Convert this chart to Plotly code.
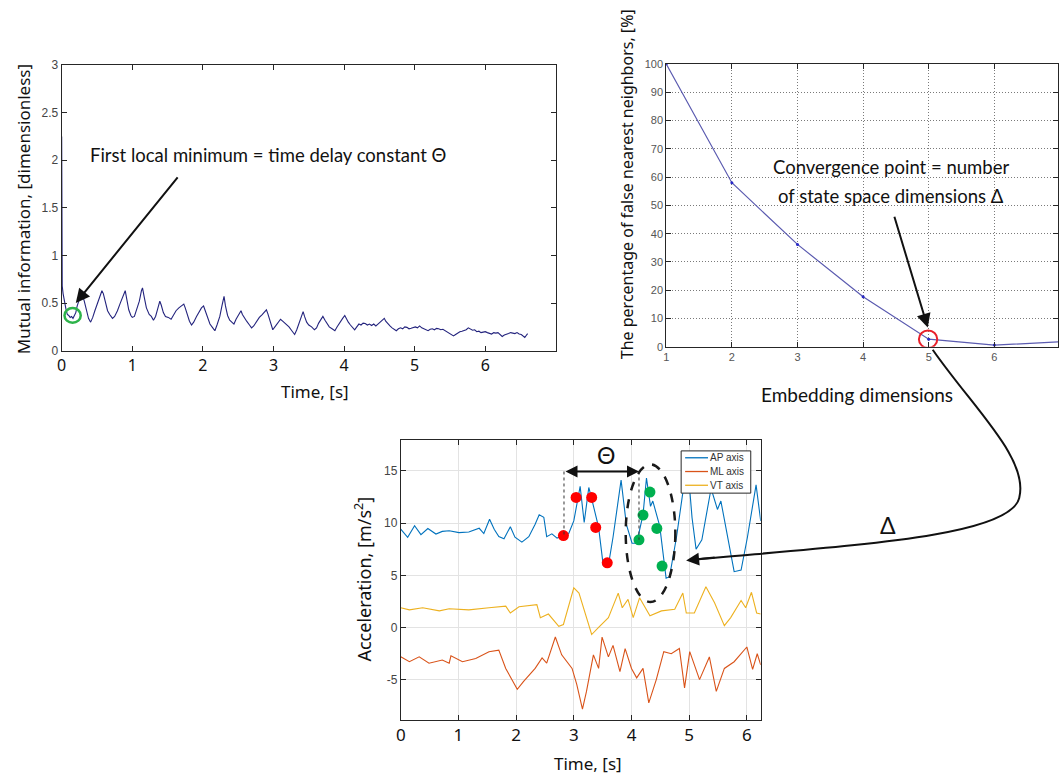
import plotly.graph_objects as go

W, H = 1059, 781


def px(x):
    return x / W


def py(y):
    return 1 - y / H


# ---- Mutual information vs. time lag: (time [s], MI) ----
mi_points = [
    (0.000, 2.25), (0.003, 1.28), (0.008, 0.68), (0.02, 0.60), (0.04, 0.50), (0.06, 0.44),
    (0.08, 0.38), (0.10, 0.37), (0.12, 0.35), (0.14, 0.36), (0.16, 0.34), (0.18, 0.37),
    (0.20, 0.40), (0.22, 0.47), (0.24, 0.53), (0.26, 0.56), (0.28, 0.58), (0.30, 0.57),
    (0.32, 0.52), (0.35, 0.42), (0.38, 0.34), (0.41, 0.30), (0.44, 0.35), (0.47, 0.42),
    (0.50, 0.48), (0.53, 0.55), (0.55, 0.60), (0.57, 0.63), (0.59, 0.60), (0.62, 0.50),
    (0.65, 0.42), (0.68, 0.38), (0.72, 0.34), (0.75, 0.36), (0.79, 0.42), (0.83, 0.50),
    (0.87, 0.58), (0.90, 0.63), (0.92, 0.55), (0.95, 0.43), (0.98, 0.37), (1.00, 0.35),
    (1.03, 0.36), (1.06, 0.42), (1.10, 0.52), (1.13, 0.63), (1.145, 0.66), (1.17, 0.56),
    (1.20, 0.45), (1.24, 0.38), (1.27, 0.36), (1.30, 0.32), (1.33, 0.36), (1.36, 0.44),
    (1.39, 0.52), (1.41, 0.48), (1.44, 0.40), (1.47, 0.36), (1.51, 0.35), (1.55, 0.33),
    (1.58, 0.37), (1.62, 0.42), (1.66, 0.45), (1.70, 0.47), (1.73, 0.49), (1.75, 0.45),
    (1.78, 0.37), (1.81, 0.31), (1.84, 0.27), (1.87, 0.30), (1.91, 0.36), (1.95, 0.42),
    (1.98, 0.45), (2.01, 0.47), (2.03, 0.43), (2.06, 0.35), (2.10, 0.28), (2.14, 0.24),
    (2.17, 0.21), (2.20, 0.27), (2.24, 0.36), (2.27, 0.47), (2.30, 0.57), (2.32, 0.47),
    (2.35, 0.37), (2.38, 0.32), (2.41, 0.30), (2.44, 0.28), (2.47, 0.33), (2.50, 0.37),
    (2.54, 0.42), (2.56, 0.38), (2.59, 0.34), (2.62, 0.31), (2.66, 0.27), (2.69, 0.24),
    (2.72, 0.26), (2.76, 0.31), (2.80, 0.35), (2.84, 0.38), (2.88, 0.42), (2.90, 0.43),
    (2.92, 0.39), (2.95, 0.31), (2.99, 0.22), (3.02, 0.25), (3.06, 0.29), (3.10, 0.33),
    (3.13, 0.31), (3.16, 0.29), (3.19, 0.27), (3.22, 0.25), (3.26, 0.21), (3.30, 0.17),
    (3.33, 0.22), (3.37, 0.30), (3.40, 0.37), (3.42, 0.41), (3.44, 0.36), (3.47, 0.30),
    (3.50, 0.27), (3.54, 0.25), (3.58, 0.22), (3.61, 0.24), (3.64, 0.29), (3.67, 0.33),
    (3.70, 0.36), (3.73, 0.32), (3.76, 0.28), (3.79, 0.25), (3.83, 0.23), (3.87, 0.21),
    (3.90, 0.25), (3.94, 0.30), (3.98, 0.34), (4.01, 0.37), (4.03, 0.34), (4.06, 0.30),
    (4.09, 0.27), (4.12, 0.24), (4.15, 0.22), (4.18, 0.25), (4.21, 0.28), (4.24, 0.27),
    (4.27, 0.29), (4.30, 0.285), (4.33, 0.27), (4.36, 0.28), (4.39, 0.265), (4.42, 0.28),
    (4.45, 0.26), (4.48, 0.28), (4.51, 0.30), (4.54, 0.31), (4.57, 0.34), (4.59, 0.31),
    (4.62, 0.28), (4.65, 0.26), (4.68, 0.24), (4.71, 0.22), (4.74, 0.21), (4.77, 0.23),
    (4.80, 0.24), (4.83, 0.23), (4.86, 0.25), (4.89, 0.245), (4.92, 0.23), (4.95, 0.235),
    (4.98, 0.24), (5.01, 0.25), (5.04, 0.24), (5.07, 0.26), (5.10, 0.24), (5.13, 0.23),
    (5.16, 0.215), (5.19, 0.21), (5.22, 0.225), (5.25, 0.23), (5.28, 0.22), (5.31, 0.235),
    (5.34, 0.23), (5.37, 0.22), (5.40, 0.225), (5.43, 0.21), (5.46, 0.20), (5.49, 0.185),
    (5.52, 0.17), (5.55, 0.155), (5.58, 0.17), (5.61, 0.19), (5.64, 0.20), (5.67, 0.205),
    (5.70, 0.21), (5.73, 0.22), (5.76, 0.24), (5.79, 0.23), (5.82, 0.215), (5.85, 0.22),
    (5.88, 0.20), (5.91, 0.205), (5.94, 0.19), (5.97, 0.195), (6.00, 0.20), (6.03, 0.19),
    (6.06, 0.18), (6.09, 0.175), (6.12, 0.19), (6.15, 0.185), (6.18, 0.19), (6.21, 0.17),
    (6.24, 0.15), (6.27, 0.165), (6.30, 0.17), (6.33, 0.18), (6.36, 0.19), (6.39, 0.185),
    (6.42, 0.18), (6.45, 0.19), (6.48, 0.175), (6.51, 0.17), (6.54, 0.15), (6.56, 0.14),
    (6.58, 0.16), (6.60, 0.18),
]
mi_t = [p[0] for p in mi_points]
mi_v = [p[1] for p in mi_points]
mi_xticks = [0, 1, 2, 3, 4, 5, 6]
mi_yticks = [0, 0.5, 1, 1.5, 2, 2.5, 3]

# ---- False nearest neighbours vs. embedding dimension ----
fnn_dim = [1, 2, 3, 4, 5, 6, 7]
fnn_pct = [100, 58, 36.2, 17.7, 2.7, 0.6, 1.75]
fnn_xticks = [1, 2, 3, 4, 5, 6]
fnn_yticks = [0, 10, 20, 30, 40, 50, 60, 70, 80, 90, 100]

# ---- Tri-axial acceleration ----
ap_t = [0.00, 0.12, 0.24, 0.35, 0.47, 0.61, 0.72, 0.84, 1.01, 1.18, 1.36, 1.44, 1.54, 1.62,
        1.70, 1.79, 1.90, 1.98, 2.10, 2.22, 2.33, 2.40, 2.48, 2.53, 2.62, 2.71, 2.82, 2.91,
        3.00, 3.11, 3.18, 3.26, 3.32, 3.43, 3.51, 3.60, 3.68, 3.82, 3.91, 4.01, 4.09, 4.20,
        4.26, 4.33, 4.37, 4.49, 4.60, 4.66, 4.78, 4.89, 4.98, 5.05, 5.12, 5.22, 5.38, 5.49,
        5.55, 5.66, 5.78, 5.90, 6.01, 6.16, 6.24]
ap_v = [9.42, 8.64, 9.74, 8.89, 9.48, 8.95, 9.2, 9.26, 9.08, 9.14, 9.5, 9.0, 10.36, 9.4,
        8.7, 8.5, 9.64, 8.65, 8.17, 8.7, 9.89, 10.8, 10.55, 8.7, 8.97, 8.56, 8.8, 8.97,
        10.2, 13.5, 10.05, 13.4, 12.1, 9.58, 5.98, 5.98, 8.64, 14.1, 9.9, 8.07, 8.07, 10.8,
        14.3, 11.6, 12.1, 9.7, 4.73, 4.87, 8.64, 12.9, 15.2, 10.5, 7.5, 8.4, 13.3, 11.3,
        12.1, 9.0, 5.35, 5.5, 8.64, 13.65, 10.2]

ml_t = [0.00, 0.15, 0.32, 0.49, 0.72, 0.84, 0.87, 1.07, 1.30, 1.53, 1.70, 1.82, 2.02, 2.13,
        2.33, 2.45, 2.53, 2.68, 2.79, 2.97, 3.05, 3.15, 3.22, 3.34, 3.43, 3.49, 3.60, 3.68,
        3.80, 3.89, 4.00, 4.09, 4.20, 4.30, 4.43, 4.56, 4.69, 4.83, 4.92, 5.01, 5.18, 5.35,
        5.47, 5.61, 5.78, 6.00, 6.10, 6.18, 6.24]
ml_v = [-2.79, -3.26, -2.79, -3.4, -3.1, -3.4, -2.7, -3.26, -2.95, -2.3, -2.15, -3.9, -5.9,
        -5.13, -3.9, -2.9, -3.4, -0.9, -2.6, -3.9, -5.4, -7.8, -6.1, -2.6, -3.9, -0.9, -2.8,
        -1.7, -4.2, -2.0, -3.9, -4.8, -3.9, -7.2, -4.97, -2.3, -2.5, -2.0, -5.76, -2.3,
        -4.97, -2.8, -6.1, -3.9, -3.26, -1.85, -4.0, -2.5, -3.55]

vt_t = [0.00, 0.15, 0.38, 0.67, 0.84, 1.18, 1.53, 1.82, 1.90, 2.05, 2.36, 2.42, 2.56, 2.74,
        2.82, 3.00, 3.09, 3.31, 3.43, 3.60, 3.77, 3.84, 3.94, 4.03, 4.14, 4.32, 4.52, 4.75,
        4.89, 4.95, 5.09, 5.29, 5.44, 5.61, 5.72, 5.90, 5.98, 6.08, 6.17, 6.24]
vt_v = [1.9, 1.7, 1.9, 1.6, 1.8, 1.7, 1.9, 2.06, 1.4, 2.0, 2.2, 0.95, 1.3, 0.13, 0.3, 3.8,
        3.3, -0.66, 0.02, 0.96, 3.3, 1.9, 2.7, 0.96, 2.85, 1.13, 1.6, 1.75, 3.3, 1.4, 1.4,
        3.9, 2.37, 0.19, 0.96, 2.6, 1.9, 3.38, 1.4, 1.3]

acc_series = ["AP axis", "ML axis", "VT axis"]
acc_colors = ["#0072BD", "#D95319", "#EDB120"]
acc_xticks = [0, 1, 2, 3, 4, 5, 6]
acc_yticks = [-5, 0, 5, 10, 15]

# delay-embedding samples on the AP signal
red_t = [2.82, 3.04, 3.31, 3.38, 3.58]
red_v = [8.8, 12.45, 12.45, 9.58, 6.2]
green_t = [4.13, 4.20, 4.32, 4.44, 4.53]
green_v = [8.39, 10.76, 12.96, 9.48, 5.88]
theta_start, theta_end = 2.83, 4.13

AXIS_COLOR = "#262626"
TICK_FONT = "Liberation Sans"
TEXT_FONT = "Lato"
TITLE_FONT = "Noto Sans"

fig = go.Figure()

fig.add_trace(go.Scatter(x=mi_t, y=mi_v, mode="lines", line=dict(color="#23237d", width=1.1),
                         xaxis="x", yaxis="y", showlegend=False))
fig.add_trace(go.Scatter(x=fnn_dim, y=fnn_pct, mode="lines+markers",
                         line=dict(color="#5b5bb0", width=1.2),
                         marker=dict(size=3, color="#2828c8"),
                         xaxis="x2", yaxis="y2", showlegend=False))
for name, color, t, v in zip(acc_series, acc_colors, [ap_t, ml_t, vt_t], [ap_v, ml_v, vt_v]):
    fig.add_trace(go.Scatter(x=t, y=v, mode="lines", name=name, showlegend=False,
                             line=dict(color=color, width=1.1), xaxis="x3", yaxis="y3"))
fig.add_trace(go.Scatter(x=red_t, y=red_v, mode="markers", marker=dict(size=11, color="#ff0000"),
                         xaxis="x3", yaxis="y3", showlegend=False))
fig.add_trace(go.Scatter(x=green_t, y=green_v, mode="markers", marker=dict(size=11, color="#00b050"),
                         xaxis="x3", yaxis="y3", showlegend=False))


def box_axis(**kw):
    base = dict(showline=True, linecolor=AXIS_COLOR, linewidth=1, mirror="ticks", ticks="inside",
                ticklen=5, tickcolor=AXIS_COLOR, zeroline=False, showgrid=False)
    base.update(kw)
    return base


fig.update_layout(
    width=W, height=H, autosize=False,
    margin=dict(l=0, r=0, t=0, b=0),
    paper_bgcolor="white", plot_bgcolor="white",
    showlegend=False,
    xaxis=box_axis(domain=[px(57), px(554)], range=[0, 7], anchor="y",
                   tickvals=mi_xticks, ticktext=[str(v) for v in mi_xticks],
                   tickfont=dict(family=TITLE_FONT, size=16, color="#111")),
    yaxis=box_axis(domain=[py(350), py(59)], range=[0, 3], anchor="x",
                   tickvals=mi_yticks, ticktext=["0", "0.5", "1", "1.5", "2", "2.5", "3"],
                   tickfont=dict(family=TICK_FONT, size=12, color="#444")),
    xaxis2=box_axis(domain=[px(665), 1.0], range=[1, 1 + (1059 - 665) / 66], anchor="y2",
                    tickvals=fnn_xticks, ticktext=[str(v) for v in fnn_xticks],
                    tickfont=dict(family=TICK_FONT, size=11, color="#555"),
                    showgrid=True, gridcolor="#7a7a7a", gridwidth=1, griddash="1px,2px"),
    yaxis2=box_axis(domain=[py(346), py(58)], range=[0, 100], anchor="x2",
                    tickvals=fnn_yticks, ticktext=[str(v) for v in fnn_yticks],
                    tickfont=dict(family=TICK_FONT, size=11, color="#555"),
                    showgrid=True, gridcolor="#7a7a7a", gridwidth=1, griddash="1px,2px"),
    xaxis3=box_axis(domain=[px(398), px(760)], range=[0, 6.24], anchor="y3",
                    tickvals=acc_xticks, ticktext=[str(v) for v in acc_xticks],
                    tickfont=dict(family=TITLE_FONT, size=17, color="#111"),
                    showgrid=True, gridcolor="#e3e3e3", gridwidth=1),
    yaxis3=box_axis(domain=[py(726), py(441)], range=[-8.83, 17.93], anchor="x3",
                    tickvals=acc_yticks, ticktext=[str(v) for v in acc_yticks],
                    tickfont=dict(family=TICK_FONT, size=12, color="#444"),
                    showgrid=True, gridcolor="#e3e3e3", gridwidth=1),
)

# ---- shapes ----
shapes = []
# first local minimum of the mutual information
shapes.append(dict(type="circle", xref="x", yref="y", x0=0.04, x1=0.27, y0=0.294, y1=0.448,
                   line=dict(color="#2db34a", width=2.5)))
# convergence point of the FNN curve
shapes.append(dict(type="circle", xref="x2", yref="y2", x0=4.85, x1=5.13, y0=-0.4, y1=5.8,
                   line=dict(color="#e8202a", width=2)))
# delay markers
shapes.append(dict(type="line", xref="x3", yref="y3", x0=theta_start, x1=theta_start,
                   y0=14.93, y1=8.8, line=dict(color="#333", width=1, dash="dot")))
shapes.append(dict(type="line", xref="x3", yref="y3", x0=theta_end, x1=theta_end,
                   y0=14.93, y1=8.4, line=dict(color="#333", width=1, dash="dot")))
# embedded window
shapes.append(dict(type="circle", xref="x3", yref="y3", x0=3.90, x1=4.76, y0=2.45, y1=15.6,
                   line=dict(color="#1a1a1a", width=2.5, dash="dash")))
# curved connector from the FNN chart to the acceleration window
curve_px = [(933, 349), (975, 410), (1030, 460), (1020, 500), (1010, 540), (850, 548), (690, 563)]
cp = [f"{px(x):.5f},{py(y):.5f}" for x, y in curve_px]
path = f"M {cp[0]} C {cp[1]} {cp[2]} {cp[3]} C {cp[4]} {cp[5]} {cp[6]}"
shapes.append(dict(type="path", xref="paper", yref="paper", path=path,
                   line=dict(color="#111", width=2)))

# compact legend box for the acceleration axes
LEG_L, LEG_T, LEG_R, LEG_B = 680, 452, 750, 495
shapes.append(dict(type="rect", xref="paper", yref="paper", x0=px(LEG_L), x1=px(LEG_R),
                   y0=py(LEG_B), y1=py(LEG_T), fillcolor="white",
                   line=dict(color=AXIS_COLOR, width=1)))
leg_rows = [459, 473, 487]
for row_y, color in zip(leg_rows, acc_colors):
    shapes.append(dict(type="line", xref="paper", yref="paper", x0=px(684), x1=px(707),
                       y0=py(row_y), y1=py(row_y), line=dict(color=color, width=1.3)))
fig.update_layout(shapes=shapes)

# ---- annotations ----
ann = []


def label(text, x, y, size, angle=0, family=TEXT_FONT, color="#111", xanchor="center"):
    ann.append(dict(text=text, x=px(x), y=py(y), xref="paper", yref="paper", showarrow=False,
                    xanchor=xanchor, yanchor="middle", textangle=angle,
                    font=dict(family=family, size=size, color=color)))


label("Mutual information, [dimensionless]", 18, 206, 17, angle=-90, family=TITLE_FONT)
label("Time, [s]", 312, 392, 17, family=TITLE_FONT)
label("The percentage of false nearest neighbors, [%]", 625, 180, 16, angle=-90, family=TITLE_FONT)
label("Embedding dimensions", 857, 395, 19)
label("Acceleration, [m/s<sup>2</sup>]", 360, 582, 18, angle=-90, family=TITLE_FONT)
label("Time, [s]", 586, 770, 17, family=TITLE_FONT)
label("First local minimum = time delay constant Θ", 265, 151, 18.5)
label("Convergence point = number", 891, 163, 18.5)
label("of state space dimensions Δ", 891, 192, 18.5)
label("Δ", 888, 527, 23)
for row_y, name in zip(leg_rows, acc_series):
    label(name, 707, row_y, 10, family=TICK_FONT, color="#333", xanchor="left")

ann.append(dict(text="Θ", x=3.55, y=16.5, xref="x3", yref="y3", showarrow=False,
                font=dict(family=TEXT_FONT, size=23, color="#111")))
# arrow to the first minimum
ann.append(dict(text="", x=0.2, y=0.5, xref="x", yref="y", ax=1.66, ay=1.835, axref="x",
                ayref="y", showarrow=True, arrowhead=2, arrowsize=1.4, arrowwidth=2,
                arrowcolor="#111"))
# arrow to the convergence point
ann.append(dict(text="", x=4.985, y=6.8, xref="x2", yref="y2", ax=4.47, ay=46.5, axref="x2",
                ayref="y2", showarrow=True, arrowhead=2, arrowsize=1.4, arrowwidth=2,
                arrowcolor="#111"))
# delay span
ann.append(dict(text="", x=theta_end, y=14.93, xref="x3", yref="y3", ax=theta_start, ay=14.93,
                axref="x3", ayref="y3", showarrow=True, arrowhead=2, startarrowhead=2,
                arrowside="end+start", arrowsize=1.2, arrowwidth=2, arrowcolor="#111"))
# head of the curved connector
ann.append(dict(text="", x=px(685), y=py(563.5), xref="paper", yref="paper", ax=30, ay=-3,
                showarrow=True, arrowhead=2, arrowsize=1.3, arrowwidth=2, arrowcolor="#111"))
fig.update_layout(annotations=ann)

fig.write_html("out.html")
